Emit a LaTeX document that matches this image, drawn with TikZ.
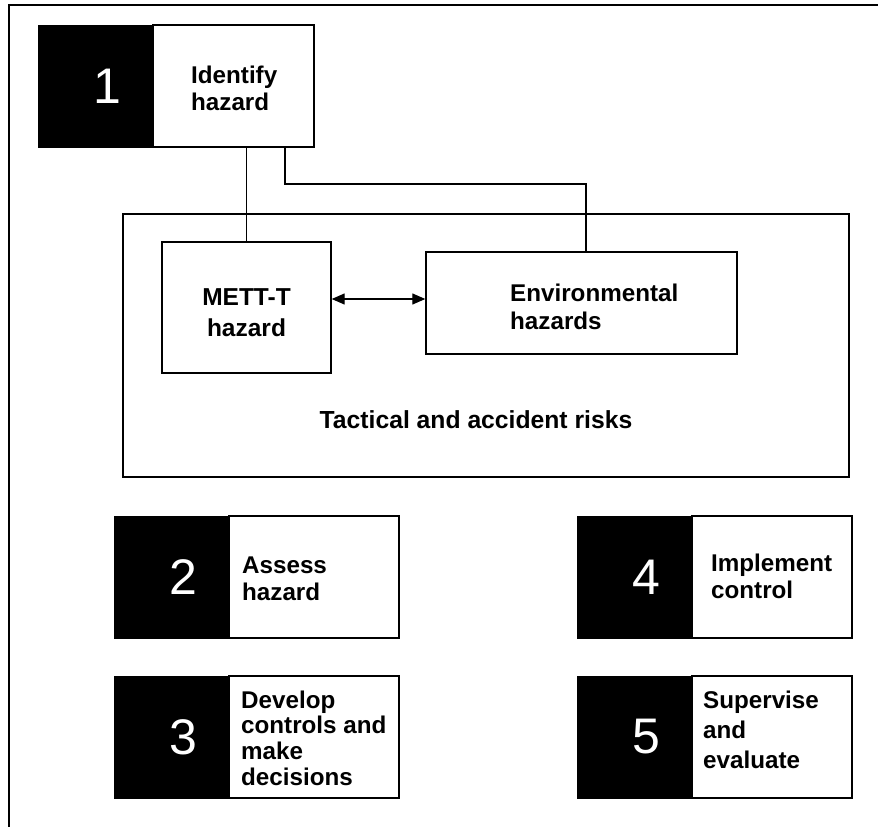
\documentclass[tikz,border=0pt]{standalone}
\usepackage{fontspec}
\setmainfont{Liberation Sans}
\usetikzlibrary{positioning,arrows.meta}

\begin{document}
\begin{tikzpicture}[x=1pt, y=-1pt,
  every node/.style={font=\bfseries\fontsize{24.2}{27}\selectfont},
  numbox/.style={fill=black, draw=black, minimum width=114pt, minimum height=122pt, inner sep=0pt},
  numtxt/.style={text=white, font=\fontsize{50}{50}\selectfont},
  stepbox/.style={draw, line width=1.4pt, minimum height=122pt, inner sep=0pt},
  steptxt/.style={anchor=west, align=left, inner sep=0pt},
  hazbox/.style={draw, line width=1.4pt, inner sep=0pt},
  link/.style={line width=1.3pt}]
\useasboundingbox (0,0) rectangle (878,827);
% frame, top and left only
\draw[line width=1.8pt] (9,827) -- (9,5) -- (878,5);
% step 1
\node[numbox] (num1) at (95,86) {};
\node[numtxt] (d1) at ([xshift=12pt]num1.center) {1};
\node[stepbox, minimum width=161pt, right=0pt of num1] (step1) {};
\node[steptxt] (t1) at (191,88) {Identify\\hazard};
% big rectangle with the two hazard boxes
\node[hazbox, minimum width=726pt, minimum height=263pt] (risks) at (486,345.5) {};
\node[anchor=base, font=\bfseries\fontsize{24.7}{27}\selectfont] (risklbl) at (476,428) {Tactical and accident risks};
\node[hazbox, minimum width=169pt, minimum height=131pt] (mett) at (246.5,307.5) {};
\node[align=center, inner sep=0pt, font=\bfseries\fontsize{24.5}{31}\selectfont] (mettlbl) at ([yshift=-5.5pt]mett.center) {METT-T\\hazard};
\node[hazbox, minimum width=311pt, minimum height=102pt] (env) at (581.5,303) {};
\node[steptxt, font=\bfseries\fontsize{24.2}{28}\selectfont] (envlbl) at (510,307) {Environmental\\hazards};
% links
\coordinate (elbow) at (586,184);
\draw[link] (mett.north) -- (mett.north |- step1.south);
\draw[link] ([xshift=51.5pt]step1.south) |- (elbow) -- (elbow |- env.north);
\draw[link, {Triangle[length=13pt,width=11pt]}-{Triangle[length=13pt,width=11pt]}] ([yshift=8.5pt]mett.east) -- ([yshift=4pt]env.west);
% step 2
\node[numbox] (num2) at (171,577) {};
\node[numtxt] (d2) at ([xshift=12pt]num2.center) {2};
\node[stepbox, minimum width=170pt, right=0pt of num2] (step2) {};
\node[steptxt] (t2) at (242,579) {Assess\\hazard};
% step 3
\node[numbox] (num3) at (171,737) {};
\node[numtxt] (d3) at ([xshift=12pt]num3.center) {3};
\node[stepbox, minimum width=170pt, right=0pt of num3] (step3) {};
\node[steptxt, font=\bfseries\fontsize{24.2}{25.7}\selectfont] (t3) at (241,738) {Develop\\controls and\\make\\decisions};
% step 4
\node[numbox] (num4) at (634,577) {};
\node[numtxt] (d4) at ([xshift=12pt]num4.center) {4};
\node[stepbox, minimum width=160pt, right=0pt of num4] (step4) {};
\node[steptxt] (t4) at (711,576) {Implement\\control};
% step 5
\node[numbox] (num5) at (634,737) {};
\node[numtxt] (d5) at ([xshift=12pt]num5.center) {5};
\node[stepbox, minimum width=160pt, right=0pt of num5] (step5) {};
\node[steptxt, font=\bfseries\fontsize{24.2}{30}\selectfont] (t5) at (703,730) {Supervise\\and\\evaluate};
\end{tikzpicture}
\end{document}
